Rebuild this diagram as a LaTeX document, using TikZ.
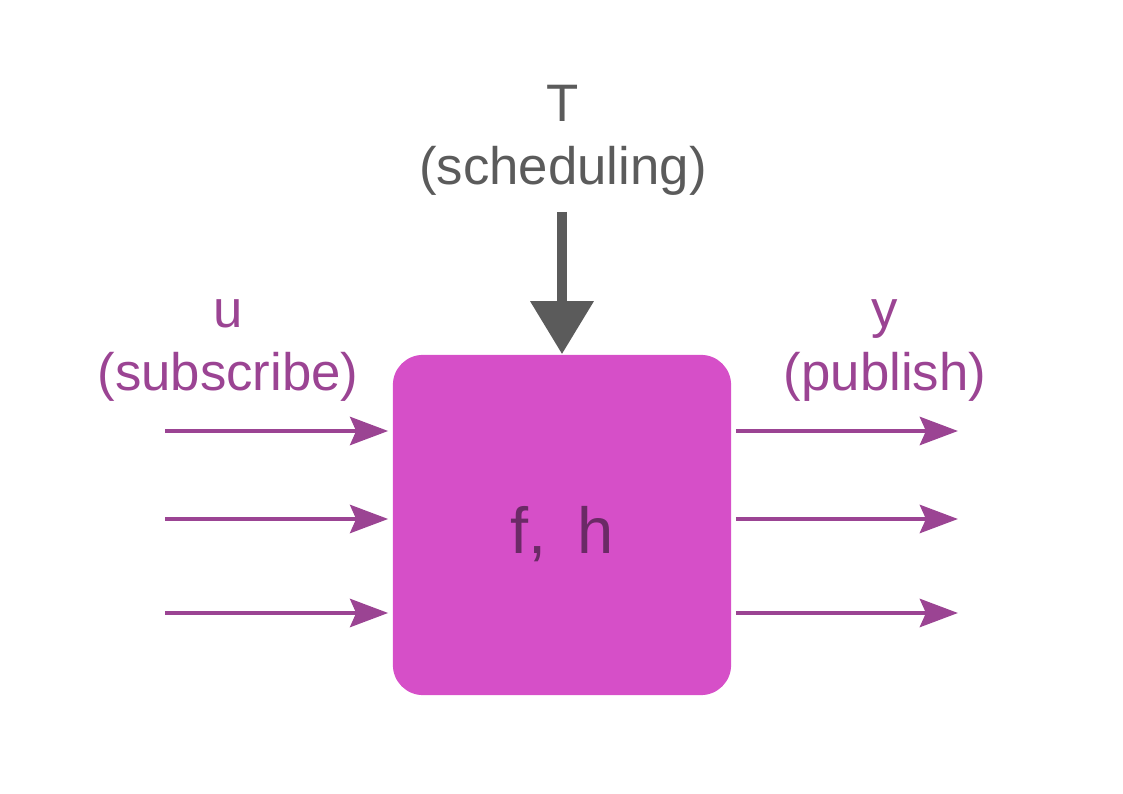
\documentclass[tikz,border=0pt]{standalone}
\usepackage{fontspec}
\setmainfont{Liberation Sans}
\usetikzlibrary{arrows.meta}
\usetikzlibrary{calc}
\definecolor{boxfill}{HTML}{D64FC8}
\definecolor{wirec}{HTML}{9B4493}
\definecolor{boxtext}{HTML}{6B2A66}
\definecolor{ctrlc}{HTML}{5B5B5B}
\tikzset{sys/.style={
  draw=none,fill=boxfill,rounded corners=0.3cm,
  minimum width=3.38cm,minimum height=3.40cm,
  text height=0.56cm,text depth=0pt,
  text=boxtext,font=\fontsize{18.5}{22}\selectfont
}}
\tikzset{wire/.style={
  draw=wirec,line width=1.4pt,
  -{Stealth[length=0.38cm,width=0.28cm,inset=0.06cm]}
}}
\tikzset{lbl/.style={
  align=center,inner sep=0pt,font=\fontsize{15}{17.9}\selectfont
}}

\begin{document}
\begin{tikzpicture}[x=0.01cm,y=-0.01cm]
    \useasboundingbox (0,0) rectangle (1123,794);
    % Box
    \node[sys] (fh) at (562,525) {f,\hspace{0.12cm} h};
    % Labels
    \node[lbl,text=ctrlc] (ctrl) at (563,140) {T\\(scheduling)};
    \node[lbl,text=wirec] (inp) at (228,351) {u\\(subscribe)};
    \node[lbl,text=wirec] (outp) at (885,351) {y\\(publish)};
    % Wires
    \coordinate (top) at (562,212);
    \draw[draw=ctrlc,line width=2.9pt,
      -{Triangle[length=0.53cm,width=0.61cm]}] (top) -- (fh.north);
    \foreach \i/\yy in {1/431,2/519,3/613} {
      \coordinate (in\i) at (165,\yy);
      \coordinate (out\i) at (958,\yy);
      \draw[wire,shorten >=0.04cm] (in\i) -- (in\i -| fh.west);
      \draw[wire,shorten <=0.04cm] (out\i -| fh.east) -- (out\i);
    }
\end{tikzpicture}
\end{document}
